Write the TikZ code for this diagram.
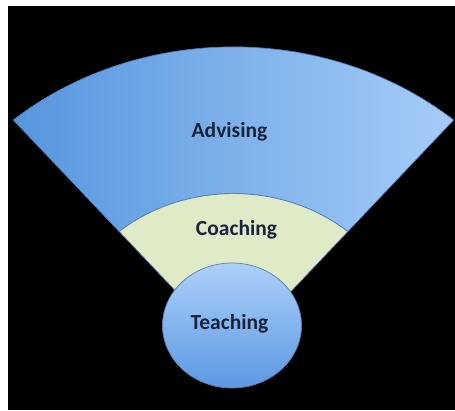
\documentclass[tikz,border=0pt]{standalone}
\usepackage{fontspec}
\setmainfont{Carlito}
\definecolor{advL}{RGB}{86,150,222}
\definecolor{advR}{RGB}{165,204,247}
\definecolor{coach}{RGB}{223,234,198}
\definecolor{circTop}{RGB}{172,208,250}
\definecolor{circBot}{RGB}{92,152,226}
\definecolor{edge}{RGB}{82,124,182}
\definecolor{ink}{RGB}{24,36,58}
\tikzset{
  label text/.style={text=ink, font=\fontsize{21.5}{22}\selectfont\bfseries, anchor=base, inner sep=0pt},
  ring edge/.style={draw=edge, line width=0.7pt}
}
\begin{document}
\begin{tikzpicture}[x=1pt,y=1pt]
\useasboundingbox (0,0) rectangle (455,410);
\fill[white] (0,0) rectangle (455,410);
\fill[black] (8,0) rectangle (455,404);
% fan: outer band and inner band, centred on the apex
\begin{scope}[shift={(233.5,58)}, yscale=0.9]
  \shade[left color=advL, right color=advR, ring edge]
    (130.5:339) arc[start angle=130.5, end angle=49.5, radius=339]
    -- (49.5:176) arc[start angle=49.5, end angle=130.5, radius=176] -- cycle;
  \fill[coach, ring edge]
    (0,0) -- (130.5:176) arc[start angle=130.5, end angle=49.5, radius=176] -- cycle;
\end{scope}
% hub circle
\shade[top color=circTop, bottom color=circBot, draw=edge!70!gray, line width=0.7pt]
  (232,84.5) ellipse [x radius=69.5, y radius=62.5];
% labels
\node[label text] (advising) at (229.5,272) {Advising};
\node[label text] (coaching) at (236.5,174) {Coaching};
\node[label text] (teaching) at (229.5,81) {Teaching};
\end{tikzpicture}
\end{document}
